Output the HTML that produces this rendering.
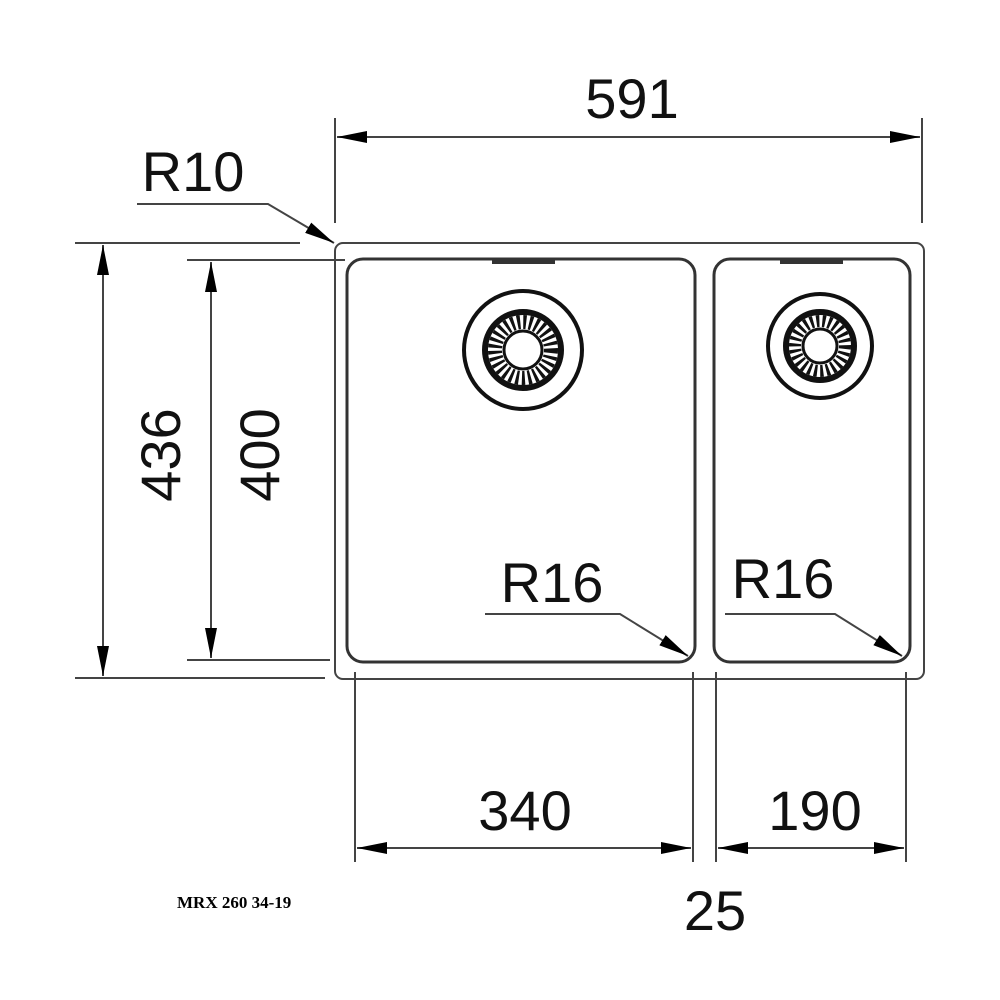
<!DOCTYPE html>
<html><head><meta charset="utf-8"><style>body{margin:0;background:#fff}svg{display:block}</style></head><body>
<svg width="1000" height="1000" viewBox="0 0 1000 1000" xmlns="http://www.w3.org/2000/svg">
<defs>
<marker id="b" viewBox="0 0 30 12" refX="30" refY="6" markerWidth="30" markerHeight="12" markerUnits="userSpaceOnUse" orient="auto-start-reverse"><path d="M0,0 L30,6 L0,12 z" fill="#000"/></marker>
</defs>
<g fill="none" stroke="#444" stroke-width="2">
<rect x="335" y="243" width="589" height="436" rx="8"/>
<rect x="347" y="259" width="348" height="403" rx="16" stroke="#333" stroke-width="3"/>
<rect x="714" y="259" width="196" height="403" rx="16" stroke="#333" stroke-width="3"/>
<line x1="492" y1="262" x2="555" y2="262" stroke="#333" stroke-width="4"/>
<line x1="780" y1="262" x2="843" y2="262" stroke="#333" stroke-width="4"/>
<line x1="335" y1="118" x2="335" y2="223"/>
<line x1="922" y1="118" x2="922" y2="223"/>
<line x1="75" y1="243" x2="300" y2="243"/>
<line x1="75" y1="678" x2="325" y2="678"/>
<line x1="187" y1="260" x2="345" y2="260"/>
<line x1="187" y1="660" x2="330" y2="660"/>
<line x1="355" y1="672" x2="355" y2="862"/>
<line x1="693" y1="672" x2="693" y2="862"/>
<line x1="716" y1="672" x2="716" y2="862"/>
<line x1="906" y1="672" x2="906" y2="862"/>
<line x1="337" y1="137" x2="920" y2="137" marker-start="url(#b)" marker-end="url(#b)"/>
<line x1="103" y1="245" x2="103" y2="676" marker-start="url(#b)" marker-end="url(#b)"/>
<line x1="211" y1="262" x2="211" y2="658" marker-start="url(#b)" marker-end="url(#b)"/>
<line x1="357" y1="848" x2="691" y2="848" marker-start="url(#b)" marker-end="url(#b)"/>
<line x1="718" y1="848" x2="904" y2="848" marker-start="url(#b)" marker-end="url(#b)"/>
<polyline points="137,204 268,204 334,243" marker-end="url(#b)"/>
<polyline points="485,614 620,614 688,656" marker-end="url(#b)"/>
<polyline points="725,614 835,614 902,656" marker-end="url(#b)"/>
</g>
<g fill="none" stroke="#111">
<circle cx="523" cy="350" r="59" stroke-width="4"/>
<circle cx="523" cy="350" r="38" stroke-width="6"/>
<circle cx="523" cy="350" r="28" stroke-width="14" stroke-dasharray="3 3"/>
<circle cx="523" cy="350" r="19" stroke-width="3"/>
<circle cx="820" cy="346" r="52" stroke-width="4"/>
<circle cx="820" cy="346" r="34" stroke-width="6"/>
<circle cx="820" cy="346" r="25" stroke-width="12" stroke-dasharray="3 3"/>
<circle cx="820" cy="346" r="17" stroke-width="3"/>
</g>
<g font-family="Liberation Sans, sans-serif" font-size="56" fill="#111" text-anchor="middle">
<text x="632" y="118">591</text>
<text x="193" y="191">R10</text>
<text x="552" y="602">R16</text>
<text x="783" y="598">R16</text>
<text x="525" y="830">340</text>
<text x="815" y="830">190</text>
<text x="715" y="930">25</text>
<text transform="translate(180,455) rotate(-90)">436</text>
<text transform="translate(279,455) rotate(-90)">400</text>
</g>
<text x="177" y="908" font-family="Liberation Serif, serif" font-size="17" font-weight="bold" fill="#000">MRX 260 34-19</text>
</svg>
</body></html>
